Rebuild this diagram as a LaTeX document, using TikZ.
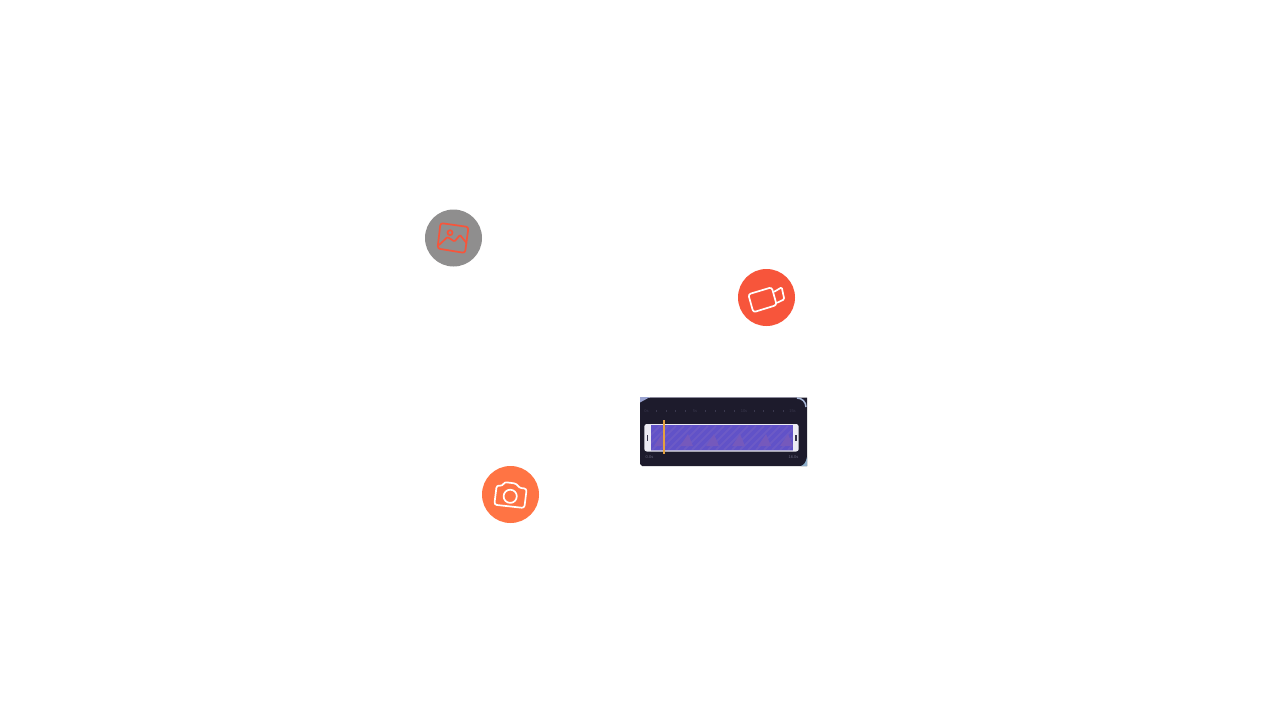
\documentclass[tikz,border=0pt]{standalone}
\usepackage{fontspec}
\setmainfont{Liberation Sans}
\definecolor{cgray}{HTML}{8F8E8E}
\definecolor{cred}{HTML}{F7553B}
\definecolor{corange}{HTML}{FF7444}
\definecolor{panel}{HTML}{1D1B2C}
\definecolor{edgeline}{HTML}{8C8A9C}
\definecolor{cornerc}{HTML}{9AA3D0}
\definecolor{arcc}{HTML}{A9B8D8}
\definecolor{wedgec}{HTML}{8FB0CC}
\definecolor{strip}{HTML}{6152C8}
\definecolor{hatch}{HTML}{6C5AC6}
\definecolor{marks}{HTML}{7559BC}
\definecolor{play}{HTML}{E5A13F}
\definecolor{tick}{HTML}{3A384E}
\definecolor{lab}{HTML}{66647A}
\definecolor{handle}{HTML}{EDECF4}
\definecolor{stripedge}{HTML}{B4B0D6}
\definecolor{grip}{HTML}{35334A}
\tikzset{
  disc/.style={circle,minimum size=57pt,inner sep=0pt,outer sep=0pt},
  iconline/.style={line width=1.7pt,line join=round,line cap=round},
  tinytext/.style={font=\fontsize{4}{4}\selectfont,text=lab,inner sep=0pt},
  ticktext/.style={font=\fontsize{4}{4}\selectfont,text=tick,inner sep=0pt}
}
\begin{document}
\begin{tikzpicture}[x=1pt,y=-1pt]
\useasboundingbox (0,0) rectangle (1280,720);
\fill[white] (0,0) rectangle (1280,720);
% discs
\node[disc,fill=cgray] (imgdisc) at (453.5,238) {};
\node[disc,fill=cred] (viddisc) at (766.5,297.5) {};
\node[disc,fill=corange] (camdisc) at (510.5,494.5) {};
% image icon
\begin{scope}[iconline,draw=cred]
  \draw[rounded corners=2.5pt] (440.5,223) -- (468.5,227) -- (465,253) -- (437.5,248.5) -- cycle;
  \draw (450,232.7) circle (2.5);
  \draw[rounded corners=1pt] (439,245) -- (447.5,237) -- (454.5,241.5) -- (460,235) -- (466.5,243);
\end{scope}
% video icon
\begin{scope}[iconline,draw=white]
  \draw[rounded corners=2.5pt] (748.3,294.3) -- (771.7,287.3) -- (776.7,305) -- (753.3,312.3) -- cycle;
  \draw[rounded corners=1.2pt] (774.3,291.7) -- (781.7,287.3) -- (784.3,299.3) -- (777.3,302.7);
\end{scope}
% camera icon
\begin{scope}[iconline,draw=white]
  \draw[rounded corners=2.5pt] (496.7,485.3) -- (502.5,486) -- (504.3,482) -- (516.7,483.7) -- (519,487.8) -- (526.7,488.7) -- (524.3,508) -- (494.3,504.7) -- cycle;
  \draw (510.2,496.3) circle (6.6);
\end{scope}
% timeline panel
\fill[panel] (640,397.5) -- (807,397.5) -- (807,466) -- (642,466) -- (640,464) -- cycle;
\fill[edgeline] (650,397) rectangle (797,398);
\fill[cornerc] (640,397) -- (650,397) -- (640,402.5) -- cycle;
\draw[arcc,line width=1.5pt] (797,398) .. controls (802,398) and (806,402) .. (806,407);
\fill[wedgec] (807,457) -- (807,466) -- (801,466) .. controls (804,465) and (806,462) .. cycle;
% ticks
\foreach \x in {656.7,666.7,675.7,685,705,715,724,734,754,763,773,783}
  \fill[tick] (\x-0.5,410.3) rectangle (\x+0.5,411.8);
\node[ticktext] (t0) at (646.5,411) {0s};
\node[ticktext] (t5) at (695,411) {5s};
\node[ticktext] (t10) at (744,411) {10s};
\node[ticktext] (t15) at (792.5,411) {15s};
% strip
\fill[handle,rounded corners=2.5pt] (644.3,424) rectangle (798.7,451.5);
\fill[strip] (651,425) rectangle (792.5,449.5);
\fill[stripedge] (651,449.5) rectangle (792.5,451);
\begin{scope}
  \clip (651,425) rectangle (792.5,449.5);
  \foreach \x in {650,658,...,810}
    \draw[hatch,line width=2pt] (\x-14,450) -- (\x+10,426);
  \foreach \x in {660,686,712,738,764,786}
    \fill[marks] (\x-6,446) -- (\x+2,434) -- (\x+7,446) -- cycle;
\end{scope}
\fill[grip] (647,435) rectangle (648.3,440.5);
\fill[grip] (795.2,435) rectangle (796.5,440.5);
% playhead
\fill[play] (663.3,420.3) rectangle (665.3,453.7);
\node[tinytext] (start) at (649.5,457) {0.0s};
\node[tinytext] (end) at (793.5,457) {16.0s};
\end{tikzpicture}
\end{document}
